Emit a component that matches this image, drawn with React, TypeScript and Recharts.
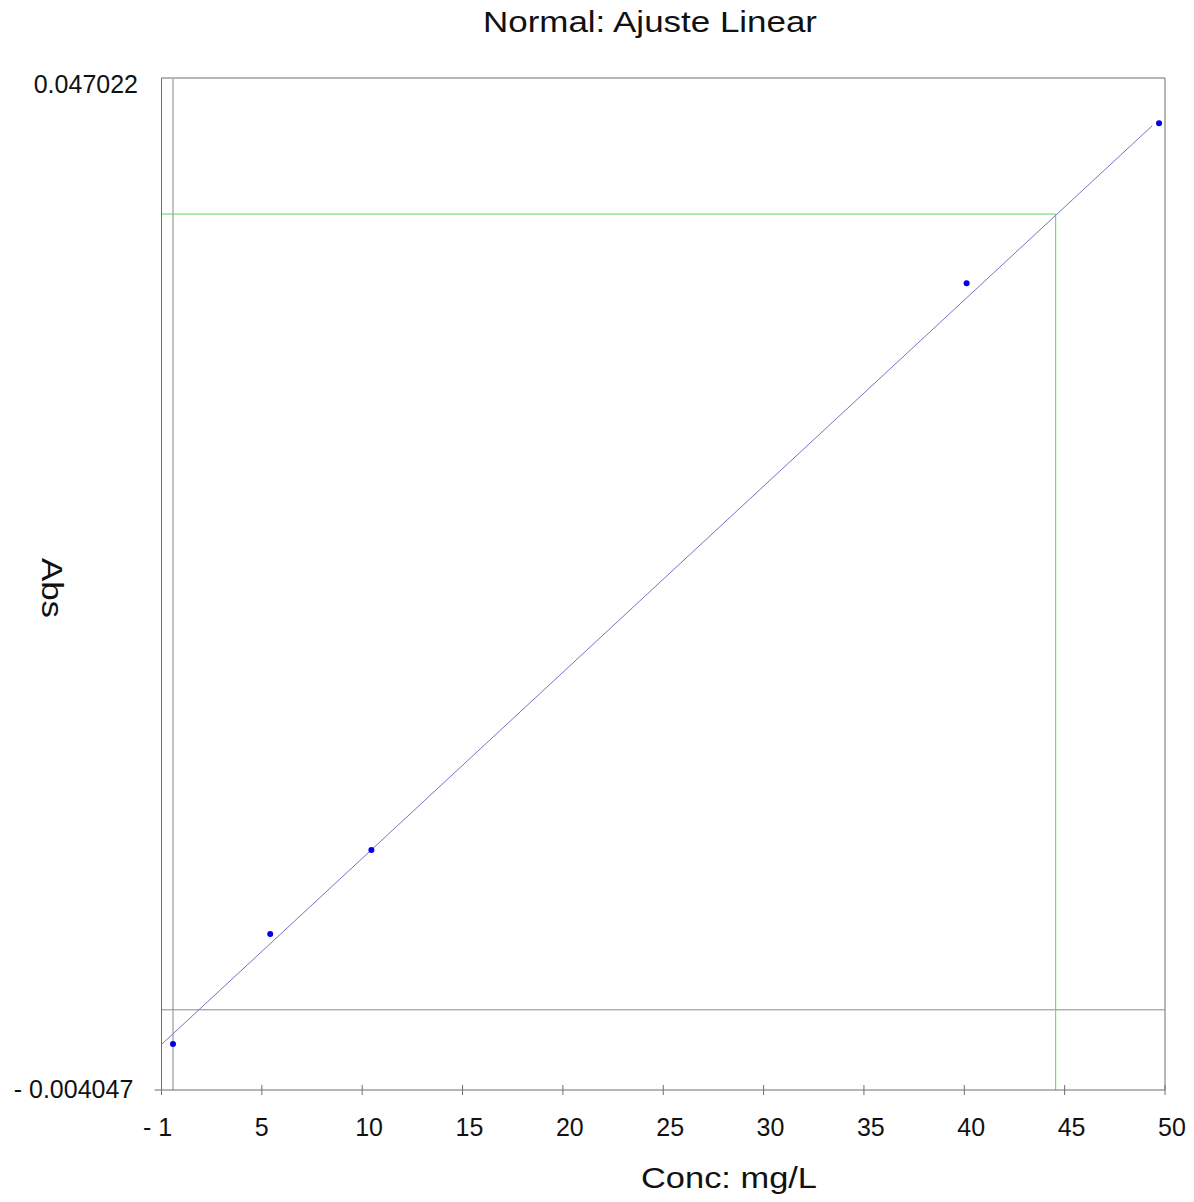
import { ReferenceLine, Scatter, ScatterChart, XAxis, YAxis } from 'recharts'

const X_MIN = -0.58
const X_MAX = 50
const Y_MIN = -0.004047
const Y_MAX = 0.047022

// tick positions are evenly spaced over the domain, labels are the instrument's rounded values
const X_TICKS = [-0.58, 4.478, 9.536, 14.594, 19.652, 24.71, 29.768, 34.826, 39.884, 44.942, 50]
const X_TICK_LABELS = ['- 1', '5', '10', '15', '20', '25', '30', '35', '40', '45', '50']
const Y_TICKS = [Y_MIN, Y_MAX]
const Y_TICK_LABELS = ['- 0.004047', '0.047022']

const STANDARDS = [
  { conc: 0, abs: -0.001726 },
  { conc: 4.9, abs: 0.003825 },
  { conc: 10, abs: 0.008064 },
  { conc: 40, abs: 0.036662 },
  { conc: 49.7, abs: 0.044737 },
]

const FIT_LINE = [
  { conc: -0.58, abs: -0.00175 },
  { conc: 49.36, abs: 0.044615 },
]

// sample reading on the curve
const SAMPLE = { conc: 44.49, abs: 0.040156 }

const FONT = '"Liberation Sans", Arial, sans-serif'
const FRAME = '#6e6e6e'

function XTick(props: any) {
  const { x, y, index } = props
  return (
    <g>
      <line x1={x} x2={x} y1={y - 5} y2={y + 5} stroke={FRAME} strokeWidth={1} />
      <text x={x + (index === 0 ? -18.5 : -7)} y={y + 46} textAnchor="start" fontSize={25} fontFamily={FONT} fill="#111">
        {X_TICK_LABELS[index]}
      </text>
    </g>
  )
}

function YTick(props: any) {
  const { x, y, index } = props
  const isMin = index === 0
  return (
    <g>
      {isMin ? <line x1={x - 7} x2={x} y1={y} y2={y} stroke={FRAME} strokeWidth={1} /> : null}
      <text
        x={x - (isMin ? 28.2 : 23.5)}
        y={y + (isMin ? 8.3 : 14.7)}
        textAnchor="end"
        fontSize={25}
        fontFamily={FONT}
        fill="#111"
      >
        {Y_TICK_LABELS[index]}
      </text>
    </g>
  )
}

const noShape = () => <g />

export default function App() {
  return (
    <div style={{ position: 'relative', width: 1186, height: 1194, background: '#fff' }}>
      <ScatterChart width={1186} height={1194} margin={{ top: 70, right: 29, bottom: 72, left: 0 }}>
        <XAxis
          type="number"
          dataKey="conc"
          domain={[X_MIN, X_MAX]}
          ticks={X_TICKS}
          allowDataOverflow
          height={40}
          tickSize={0}
          tickMargin={0}
          tickLine={false}
          axisLine={{ stroke: FRAME }}
          tick={<XTick />}
          interval={0}
        />
        <YAxis
          type="number"
          dataKey="abs"
          domain={[Y_MIN, Y_MAX]}
          ticks={Y_TICKS}
          allowDataOverflow
          width={153.5}
          tickSize={0}
          tickMargin={0}
          tickLine={false}
          axisLine={{ stroke: FRAME }}
          tick={<YTick />}
          interval={0}
        />
        <ReferenceLine y={Y_MAX} stroke={FRAME} strokeWidth={1} />
        <ReferenceLine x={X_MAX} stroke={FRAME} strokeWidth={1} />
        <ReferenceLine x={0} stroke="#b4b4b4" strokeWidth={1.6} />
        <ReferenceLine y={0} stroke="#8a8a8a" strokeWidth={1} />
        <ReferenceLine
          segment={[
            { x: X_MIN, y: SAMPLE.abs },
            { x: SAMPLE.conc, y: SAMPLE.abs },
          ]}
          stroke="#5fcf5f"
          strokeWidth={1}
        />
        <ReferenceLine
          segment={[
            { x: SAMPLE.conc, y: Y_MIN },
            { x: SAMPLE.conc, y: SAMPLE.abs },
          ]}
          stroke="#5fcf5f"
          strokeWidth={1}
        />
        <Scatter
          data={FIT_LINE}
          line={{ stroke: '#7474c4', strokeWidth: 1 }}
          shape={noShape}
          isAnimationActive={false}
        />
        <Scatter
          data={STANDARDS}
          fill="#0000ee"
          shape={(p: any) => <circle cx={p.cx} cy={p.cy} r={3} fill="#0000ee" />}
          isAnimationActive={false}
        />
      </ScatterChart>
      <svg width={1186} height={1194} style={{ position: 'absolute', left: 0, top: 0, pointerEvents: 'none' }}>
        <text x={642} y={23.7} textAnchor="middle" fontSize={29} fontFamily={FONT} fill="#111" textLength={334} lengthAdjust="spacingAndGlyphs">
          Normal: Ajuste Linear
        </text>
        <text
          transform="translate(33.7, 580) rotate(90)"
          textAnchor="middle"
          fontSize={29}
          fontFamily={FONT}
          fill="#111"
          textLength={60}
          lengthAdjust="spacingAndGlyphs"
        >
          Abs
        </text>
        <text x={633} y={1180} textAnchor="start" fontSize={29} fontFamily={FONT} fill="#111" textLength={176} lengthAdjust="spacingAndGlyphs">
          Conc: mg/L
        </text>
      </svg>
    </div>
  )
}
